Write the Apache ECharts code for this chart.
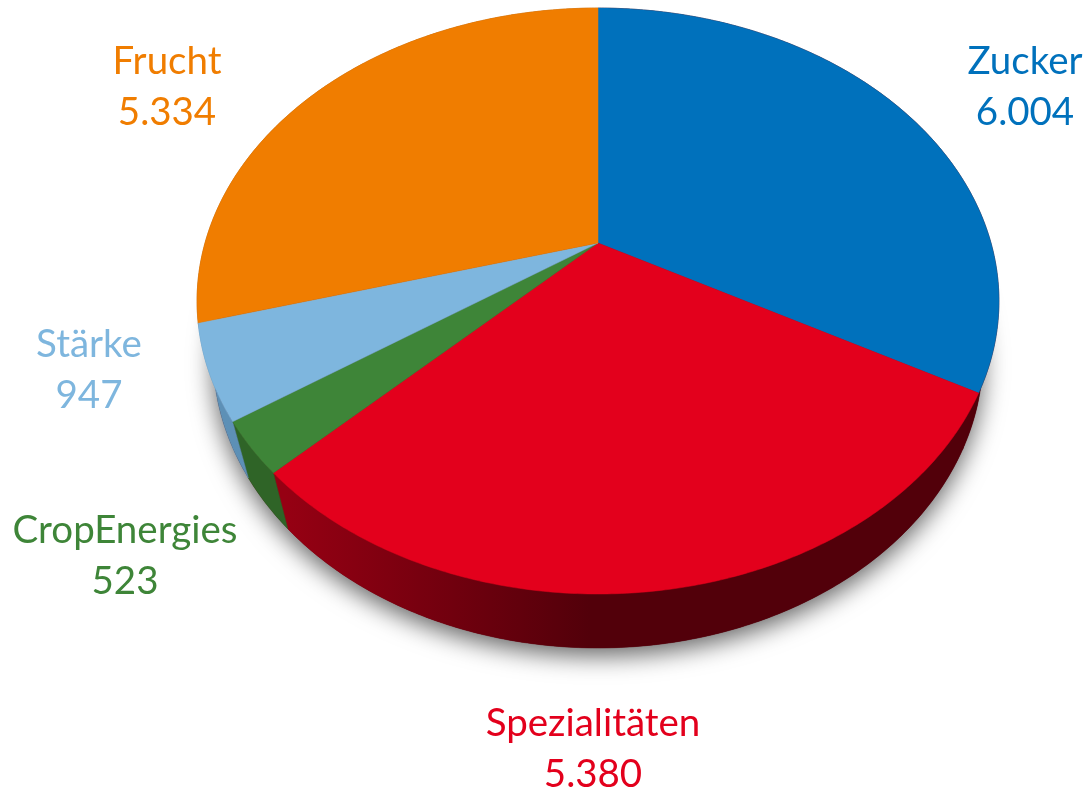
<!DOCTYPE html>
<html><head><meta charset="utf-8">
<style>html,body{margin:0;padding:0;background:#fff}#c{width:1089px;height:791px}</style>
<script src="https://cdn.jsdelivr.net/npm/echarts@6/dist/echarts.min.js"></script>
</head><body><div id="c"></div>
<script>
const categories = ['Zucker', 'Spezialitäten', 'CropEnergies', 'Stärke', 'Frucht'];
const values = [6004, 5380, 523, 947, 5334];
const valueLabels = ['6.004', '5.380', '523', '947', '5.334'];
const topColors = ['#0071bc', '#e3001c', '#3e8538', '#7eb6de', '#f07d00'];
const labelColors = ['#0071bc', '#e3001c', '#3e8538', '#7eb6de', '#f07d00'];
const labelCenters = [[1025, 87], [593, 749], [125, 556], [89, 370], [167, 87]];

// perspective projection of the pie disc
const view = { cx: 598, cy: 243, A: 393, B: 281.5, k: 0.198, m: 0.04, C: 59.5 };
const total = values.reduce((a, b) => a + b, 0);
const starts = [];
values.reduce((acc, v, i) => { starts[i] = acc; return acc + v; }, 0);

function project(theta, radial, lower) {
  const u = Math.sin(theta) * radial, v = Math.cos(theta) * radial;
  const w = 1 + view.k * v + (lower ? view.m : 0);
  return [view.cx + view.A * u / w, view.cy + (-view.B * v + (lower ? view.C : 0)) / w];
}
function arc(t0, t1, lower) {
  const n = Math.max(2, Math.ceil(Math.abs(t1 - t0) / 0.01));
  const pts = [];
  for (let i = 0; i <= n; i++) pts.push(project(t0 + (t1 - t0) * i / n, 1, lower));
  return pts;
}
function range(i, value) {
  return [starts[i] / total * 2 * Math.PI, (starts[i] + value) / total * 2 * Math.PI];
}
const redSide = { type: 'linear', global: true, x: 285, y: 0, x2: 590, y2: 0,
  colorStops: [{ offset: 0, color: '#960013' }, { offset: 1, color: '#52000a' }] };
const sideColors = ['#52000a', redSide, '#2f6427', '#5d90b6', '#a85800'];

const option = {
  animation: false,
  backgroundColor: '#ffffff',
  tooltip: { show: false },
  series: [
    { // soft shadow beneath the disc
      type: 'custom', coordinateSystem: 'none', silent: true, z: 1,
      data: [[total]],
      renderItem: () => ({
        type: 'polygon',
        shape: { points: arc(0, 2 * Math.PI, true) },
        style: { fill: '#52000a', shadowColor: 'rgba(0,0,0,0.6)', shadowBlur: 24, shadowOffsetY: 8 }
      })
    },
    { // rim
      type: 'custom', coordinateSystem: 'none', silent: true, z: 2,
      data: values.map(v => [v]),
      renderItem: (params, api) => {
        const i = params.dataIndex;
        const [t0, t1] = range(i, api.value(0));
        return {
          type: 'polygon',
          shape: { points: arc(t0, t1, false).concat(arc(t1, t0, true)) },
          style: { fill: sideColors[i], stroke: sideColors[i], lineWidth: 0.5 }
        };
      }
    },
    { // top faces and labels
      type: 'custom', coordinateSystem: 'none', silent: true, z: 3,
      data: values.map((v, i) => ({ name: categories[i], value: [v] })),
      renderItem: (params, api) => {
        const i = params.dataIndex;
        const [t0, t1] = range(i, api.value(0));
        return {
          type: 'group',
          children: [
            {
              type: 'polygon',
              shape: { points: [[view.cx, view.cy]].concat(arc(t0, t1, false)) },
              style: { fill: topColors[i], stroke: topColors[i], lineWidth: 0.5 }
            },
            {
              type: 'text',
              x: labelCenters[i][0], y: labelCenters[i][1],
              style: {
                text: categories[i] + '\n' + valueLabels[i],
                fill: labelColors[i],
                font: '38.5px Lato, "Open Sans", sans-serif',
                lineHeight: 51,
                align: 'center', verticalAlign: 'middle'
              }
            }
          ]
        };
      }
    }
  ]
};
const chart = echarts.init(document.getElementById('c'), null, { renderer: 'canvas' });
chart.setOption(option);
</script></body></html>
